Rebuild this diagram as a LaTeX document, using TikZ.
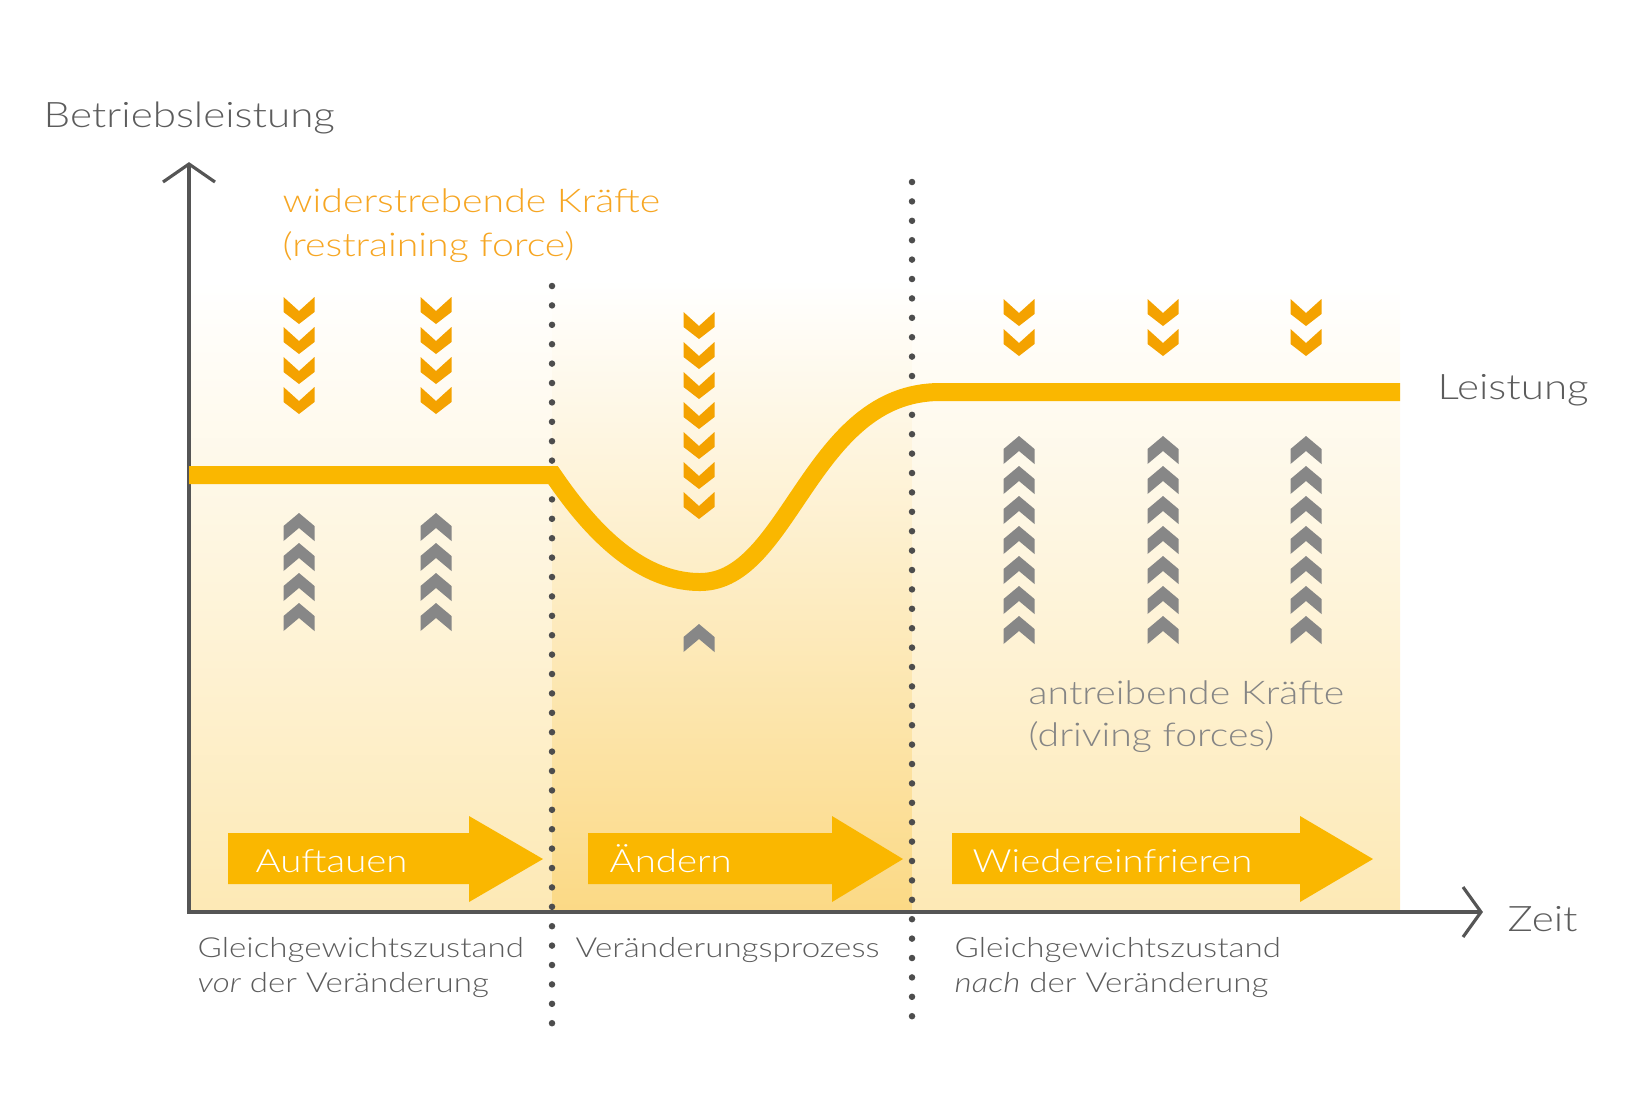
\documentclass[tikz,border=0pt]{standalone}
\usepackage{fontspec}
\setmainfont{Lato}[UprightFont=* Light, ItalicFont=* Light Italic, BoldFont=* Regular, FakeStretch=1.2]
\usepackage{tikz}
\usetikzlibrary{positioning}

\definecolor{curveorange}{HTML}{FAB700}
\definecolor{chevorange}{HTML}{F4A200}
\definecolor{textorange}{HTML}{F6A623}
\definecolor{chevgray}{HTML}{878787}
\definecolor{axisgray}{HTML}{555555}
\definecolor{dotgray}{HTML}{4D4D4D}
\definecolor{labelgray}{HTML}{5C5C5C}
\definecolor{drivegray}{HTML}{858585}
\definecolor{paleyellow}{HTML}{FDE9B5}
\definecolor{deepyellow}{HTML}{FBD985}

\begin{document}
\begin{tikzpicture}[x=0.1mm,y=-0.1mm]
		\tikzstyle{axis}=[draw=axisgray, line width=0.9pt]
		\tikzstyle{dotline}=[draw=dotgray, line width=0.65mm, line cap=round, dash pattern=on 0mm off 1.94mm]
		\tikzstyle{perf}=[draw=curveorange, line width=1.8mm]
		\tikzstyle{restrain}=[fill=chevorange]
		\tikzstyle{drive}=[fill=chevgray]
		\tikzstyle{procarrow}=[fill=curveorange]
		\tikzstyle{txt}=[anchor=base west, inner sep=0pt]
		\tikzstyle{title}=[txt, text=labelgray, font=\fontsize{10}{12}\selectfont]
		\tikzstyle{restrain text}=[txt, text=textorange, font=\fontsize{9.3}{12}\selectfont]
		\tikzstyle{drive text}=[txt, text=drivegray, font=\fontsize{9.3}{12}\selectfont]
		\tikzstyle{phase}=[txt, text=labelgray, font=\fontsize{7.85}{10}\selectfont]
		\tikzstyle{step label}=[txt, text=white, font=\fontsize{9.1}{11}\selectfont]

		\useasboundingbox (0,0) rectangle (1647,1098);

		% background panels
		\shade[top color=white, bottom color=paleyellow] (189,280) rectangle (552,912);
		\shade[top color=white, bottom color=deepyellow] (552,280) rectangle (912,912);
		\shade[top color=white, bottom color=paleyellow] (912,280) rectangle (1400,912);

		% phase borders
		\coordinate (b1top) at (552,286);
		\coordinate (b1bot) at (552,1030);
		\coordinate (b2top) at (912,182);
		\coordinate (b2bot) at (912,1030);
		\draw[dotline] (b1top) -- (b1bot);
		\draw[dotline] (b2top) -- (b2bot);

		% axes
		\coordinate (o) at (189,912);
		\coordinate (ytip) at (189,164);
		\coordinate (xtip) at (1481,912);
		\draw[axis] (ytip) -- (o) -- (xtip);
		\draw[axis] (ytip) ++(-26,18) -- (ytip) -- ++(26,18);
		\draw[axis] (xtip) ++(-18,-25) -- (xtip) -- ++(-18,25);

		% performance curve
		\draw[perf] (189,475) -- (553,475)
			.. controls (585,522) and (635,582) .. (700,582)
			.. controls (790,582) and (810,392) .. (940,392) -- (1400,392);

		% restraining forces
		\foreach \cx in {299,436}
			\foreach \k in {0,...,3}
				\fill[restrain] (\cx,297+30*\k) ++(-15.5,0) -- ++(15.5,14) -- ++(15.5,-14) -- ++(0,15) -- ++(-15.5,12) -- ++(-15.5,-12) -- cycle;
		\foreach \k in {0,...,6}
			\fill[restrain] (699,312+30*\k) ++(-15.5,0) -- ++(15.5,14) -- ++(15.5,-14) -- ++(0,15) -- ++(-15.5,12) -- ++(-15.5,-12) -- cycle;
		\foreach \cx in {1019,1163,1306}
			\foreach \k in {0,1}
				\fill[restrain] (\cx,299+30*\k) ++(-15.5,0) -- ++(15.5,14) -- ++(15.5,-14) -- ++(0,15) -- ++(-15.5,12) -- ++(-15.5,-12) -- cycle;

		% driving forces
		\foreach \cx in {299,436}
			\foreach \k in {0,...,3}
				\fill[drive] (\cx,513+30*\k) -- ++(15.5,13) -- ++(0,15) -- ++(-15.5,-13) -- ++(-15.5,13) -- ++(0,-15) -- cycle;
		\fill[drive] (699,624) -- ++(15.5,13) -- ++(0,15) -- ++(-15.5,-13) -- ++(-15.5,13) -- ++(0,-15) -- cycle;
		\foreach \cx in {1019,1163,1306}
			\foreach \k in {0,...,6}
				\fill[drive] (\cx,436+30*\k) -- ++(15.5,13) -- ++(0,15) -- ++(-15.5,-13) -- ++(-15.5,13) -- ++(0,-15) -- cycle;

		% process arrows
		\fill[procarrow] (228,833) -- (469,833) -- (469,816) -- (543,859) -- (469,902) -- (469,884) -- (228,884) -- cycle;
		\fill[procarrow] (588,833) -- (832,833) -- (832,816) -- (903,859) -- (832,902) -- (832,884) -- (588,884) -- cycle;
		\fill[procarrow] (952,833) -- (1300,833) -- (1300,816) -- (1373,859) -- (1300,902) -- (1300,884) -- (952,884) -- cycle;
		\node[step label] (unfreeze) at (255,872) {Auftauen};
		\node[step label] (change) at (609,872) {Ändern};
		\node[step label] (refreeze) at (972,872) {Wiedereinfrieren};

		% labels
		\node[title] (ylabel) at (43,127) {Betriebsleistung};
		\node[title] (xlabel) at (1507,931) {Zeit};
		\node[title] (perflabel) at (1437,399) {Leistung};
		\node[restrain text] (restrain1) at (282,212) {widerstrebende Kräfte};
		\node[restrain text] (restrain2) at (282,256) {(restraining force)};
		\node[drive text] (drive1) at (1028,704) {antreibende Kräfte};
		\node[drive text] (drive2) at (1028,746) {(driving forces)};
		\node[phase] (before1) at (197,957) {Gleichgewichtszustand};
		\node[phase] (before2) at (197,992) {\textit{vor} der Veränderung};
		\node[phase] (process) at (575,957) {Veränderungsprozess};
		\node[phase] (after1) at (954,957) {Gleichgewichtszustand};
		\node[phase] (after2) at (954,992) {\textit{nach} der Veränderung};
	\end{tikzpicture}
\end{document}
